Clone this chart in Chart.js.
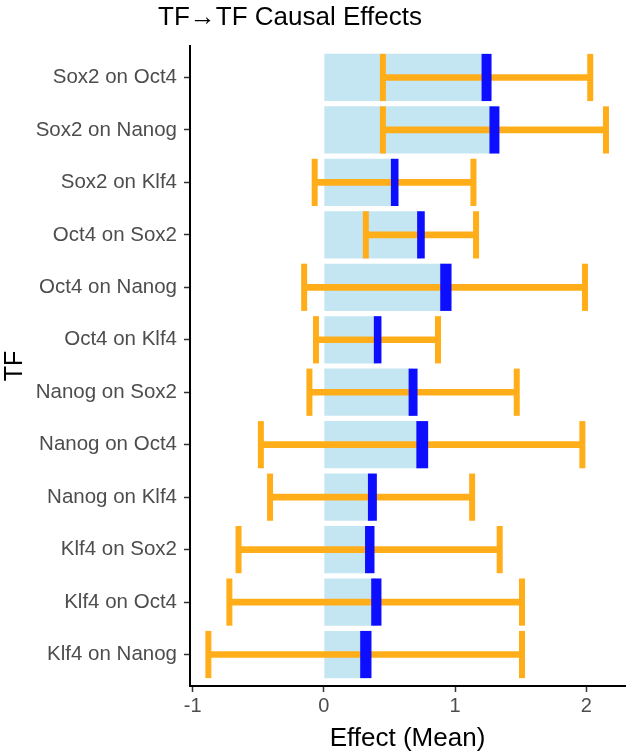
<!DOCTYPE html>
<html>
<head>
<meta charset="utf-8">
<script src="https://cdn.jsdelivr.net/npm/chart.js@4.4.1/dist/chart.umd.min.js"></script>
<style>
    html, body { margin: 0; padding: 0; background: #fff; }
    #wrap { width: 629px; height: 754px; }
</style>
</head>
<body>
<div id="wrap"><canvas id="effectChart"></canvas></div>
<script>
const labels = [
    "Sox2 on Oct4",
    "Sox2 on Nanog",
    "Sox2 on Klf4",
    "Oct4 on Sox2",
    "Oct4 on Nanog",
    "Oct4 on Klf4",
    "Nanog on Sox2",
    "Nanog on Oct4",
    "Nanog on Klf4",
    "Klf4 on Sox2",
    "Klf4 on Oct4",
    "Klf4 on Nanog"
];
const meanEffect = [1.24, 1.30, 0.54, 0.74, 0.93, 0.41, 0.68, 0.75, 0.37, 0.35, 0.40, 0.32];
const lowerCI = [0.45, 0.45, -0.07, 0.32, -0.15, -0.06, -0.11, -0.48, -0.41, -0.65, -0.72, -0.88];
const upperCI = [2.03, 2.15, 1.14, 1.16, 1.99, 0.87, 1.47, 1.97, 1.13, 1.34, 1.51, 1.51];
const meanSE = [0.038, 0.038, 0.029, 0.029, 0.043, 0.029, 0.034, 0.045, 0.034, 0.036, 0.039, 0.043];
const xTicks = [-1, 0, 1, 2];

const FONT = "'Liberation Sans', Arial, sans-serif";

// caps of the error bars, drawn right after the orange dataset
const capsPlugin = {
    id: "caps",
    afterDatasetDraw(chart, args) {
        if (args.index !== 1) return;
        const { ctx, scales: { x, y } } = chart;
        const half = Math.abs(y.getPixelForValue(1) - y.getPixelForValue(0)) * 0.45;
        ctx.save();
        ctx.fillStyle = "#FFAE1A";
        labels.forEach((_, i) => {
            const yc = y.getPixelForValue(i);
            [lowerCI[i], upperCI[i]].forEach(v => {
                const xc = x.getPixelForValue(v);
                ctx.fillRect(xc - 3, yc - half, 6, half * 2);
            });
        });
        ctx.restore();
    }
};

const titlePlugin = {
    id: "plotTitle",
    afterDraw(chart) {
        const ctx = chart.ctx;
        ctx.save();
        ctx.font = "26px " + FONT;
        ctx.fillStyle = "#000";
        ctx.textAlign = "center";
        ctx.textBaseline = "middle";
        ctx.fillText("TF\u2192TF Causal Effects", 290, 18);
        ctx.restore();
    }
};

new Chart(document.getElementById("effectChart"), {
    type: "bar",
    data: {
        datasets: [
            {
                data: labels.map((_, i) => ({ y: i, x: meanEffect[i] })),
                backgroundColor: "#C4E5F2",
                barPercentage: 0.9,
                categoryPercentage: 1,
                grouped: false,
                order: 3
            },
            {
                data: labels.map((_, i) => ({ y: i, x: [lowerCI[i], upperCI[i]] })),
                backgroundColor: "#FFAE1A",
                barThickness: 6,
                grouped: false,
                order: 2
            },
            {
                data: labels.map((_, i) => ({ y: i, x: [meanEffect[i] - meanSE[i], meanEffect[i] + meanSE[i]] })),
                backgroundColor: "#0D0DFF",
                barPercentage: 0.9,
                categoryPercentage: 1,
                grouped: false,
                order: 1
            }
        ]
    },
    plugins: [capsPlugin, titlePlugin],
    options: {
        indexAxis: "y",
        responsive: true,
        maintainAspectRatio: false,
        animation: false,
        layout: {
            padding: { top: 46, right: 4, left: 0, bottom: 0 }
        },
        plugins: {
            legend: { display: false },
            tooltip: { enabled: false }
        },
        scales: {
            x: {
                type: "linear",
                min: -1.02,
                max: 2.295,
                afterBuildTicks(scale) {
                    scale.ticks = xTicks.map(v => ({ value: v }));
                },
                afterFit(scale) {
                    scale.height = 68;
                },
                grid: {
                    drawOnChartArea: false,
                    drawTicks: true,
                    tickLength: 6,
                    tickWidth: 1.5,
                    tickColor: "#333"
                },
                border: { display: true, color: "#000", width: 2 },
                ticks: {
                    color: "#4D4D4D",
                    padding: 2,
                    font: { family: FONT, size: 20 }
                },
                title: {
                    display: true,
                    text: "Effect (Mean)",
                    color: "#000",
                    padding: { top: 1, bottom: 0 },
                    font: { family: FONT, size: 26 }
                }
            },
            y: {
                type: "linear",
                reverse: true,
                offset: false,
                min: -0.6,
                max: 11.6,
                afterBuildTicks(scale) {
                    scale.ticks = labels.map((_, i) => ({ value: i }));
                },
                afterFit(scale) {
                    scale.width = 190;
                },
                grid: {
                    offset: false,
                    drawOnChartArea: false,
                    drawTicks: true,
                    tickLength: 6,
                    tickWidth: 1.5,
                    tickColor: "#333"
                },
                border: { display: true, color: "#000", width: 2 },
                ticks: {
                    color: "#4D4D4D",
                    padding: 7,
                    autoSkip: false,
                    font: { family: FONT, size: 20.5 },
                    callback: v => labels[v]
                },
                title: {
                    display: true,
                    text: "TF",
                    color: "#000",
                    padding: { top: 0, bottom: 0 },
                    font: { family: FONT, size: 25 }
                }
            }
        }
    }
});
</script>
</body>
</html>
